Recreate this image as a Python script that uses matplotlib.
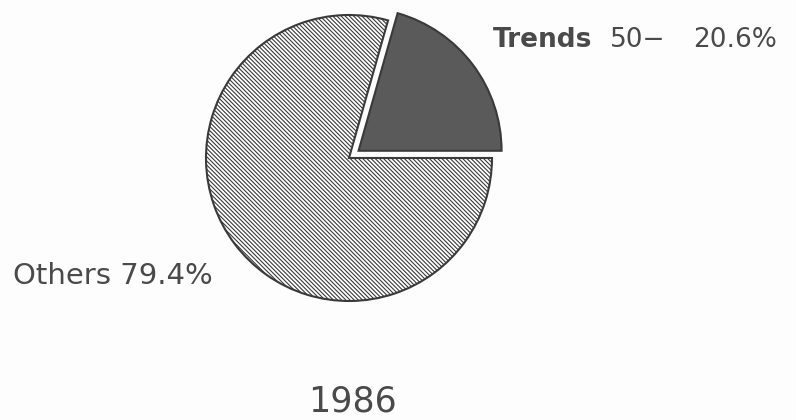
import matplotlib.pyplot as plt

labels = ['Trends', 'Others']
shares = [20.6, 79.4]
trend_note = '50\u2212'
year = '1986'

plt.rcParams['hatch.linewidth'] = 0.8
plt.rcParams['hatch.color'] = '#555555'

fig = plt.figure(figsize=(7.96, 4.2), dpi=100)
fig.patch.set_facecolor('#fdfdfd')
ax = fig.add_axes([0, 0, 1, 1])

# explode is in data units here (pixels), not a radius fraction
wedges, _ = ax.pie(shares, startangle=0, counterclock=True,
                   center=(349, 262), radius=143,
                   explode=[12, 0], colors=['#5a5a5a', 'white'],
                   wedgeprops=dict(edgecolor='#3a3a3a', linewidth=1.5))
wedges[1].set_hatch('\\' * 8)
ax.set_xlim(0, 796)
ax.set_ylim(0, 420)
ax.set_aspect('equal')
ax.axis('off')

tc = '#4a4a4a'
ax.text(493, 380, labels[0], fontsize=19, fontweight='bold', color=tc,
        ha='left', va='center')
ax.text(610, 380, trend_note, fontsize=19, color=tc, ha='left', va='center')
ax.text(693, 380, f'{shares[0]}%', fontsize=19, color=tc,
        ha='left', va='center')
ax.text(13, 144, f'{labels[1]} {shares[1]}%', fontsize=21, color=tc,
        ha='left', va='center')
ax.text(352, 18, year, fontsize=25, color=tc, ha='center', va='center')

fig.savefig('out.png', dpi=100, facecolor=fig.get_facecolor())
